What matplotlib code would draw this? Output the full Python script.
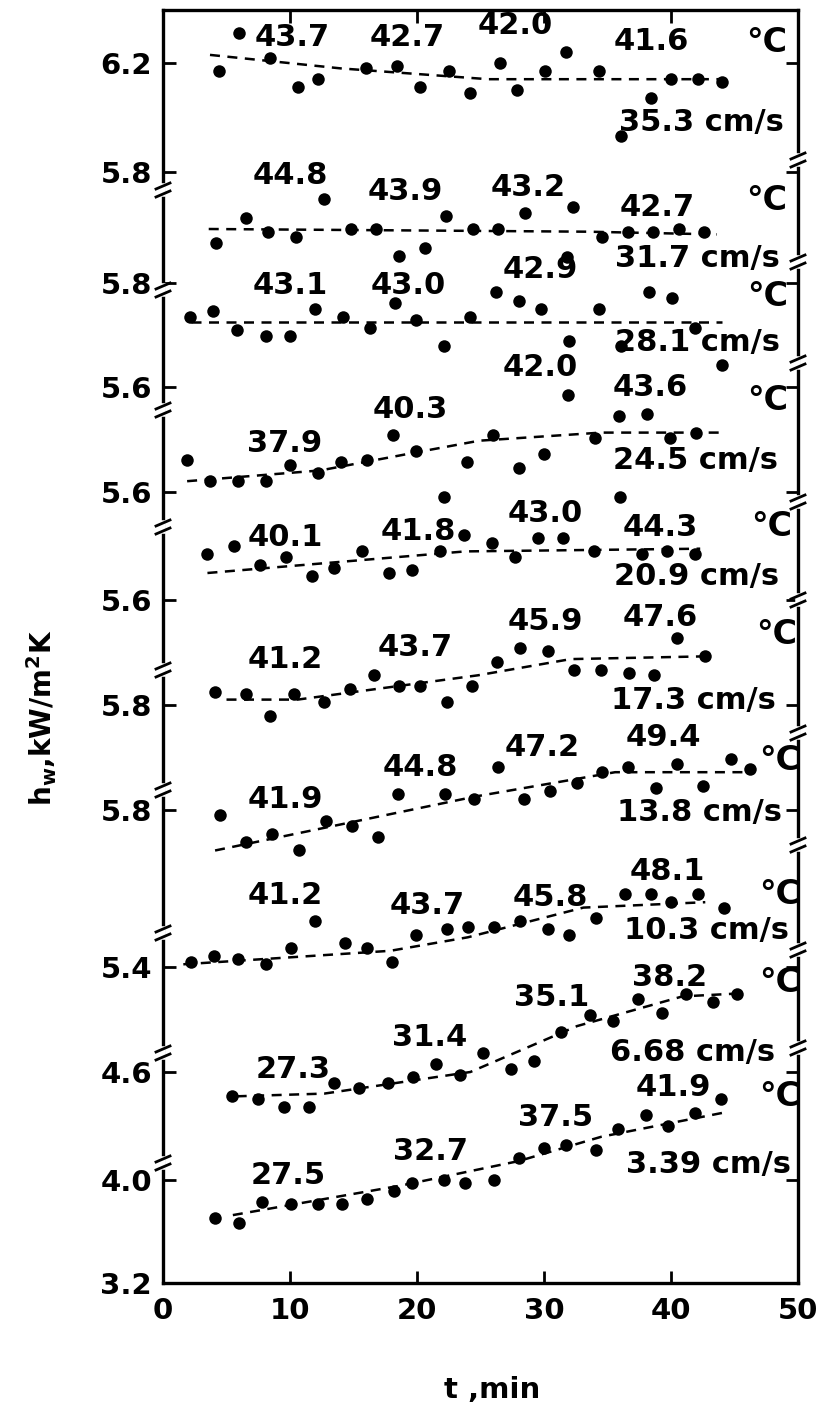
import matplotlib
matplotlib.use('Agg')
import matplotlib.pyplot as plt
import numpy as np

plt.rcParams.update({'font.family': 'DejaVu Sans', 'font.weight': 'bold',
                     'font.size': 21, 'mathtext.default': 'bf'})

# water velocity of each run, top to bottom
velocity = ['35.3', '31.7', '28.1', '24.5', '20.9', '17.3', '13.8', '10.3', '6.68', '3.39']

# wall temperatures written along each run (deg C)
temps = [['43.7', '42.7', '42.0', '41.6'],
         ['44.8', '43.9', '43.2', '42.7'],
         ['43.1', '43.0', '42.9'],
         ['37.9', '40.3', '42.0', '43.6'],
         ['40.1', '41.8', '43.0', '44.3'],
         ['41.2', '43.7', '45.9', '47.6'],
         ['41.9', '44.8', '47.2', '49.4'],
         ['41.2', '43.7', '45.8', '48.1'],
         ['27.3', '31.4', '35.1', '38.2'],
         ['27.5', '32.7', '37.5', '41.9']]

# measured h_w (kW/m2K) against time (min)
t1 = [4.4, 6.0, 8.4, 10.6, 12.2, 16.0, 18.4, 20.2, 22.5, 24.2, 26.5, 27.9, 30.1, 31.7, 34.3, 36.1, 38.4, 40.0, 42.1, 44.0]
h1 = [6.17, 6.31, 6.22, 6.11, 6.14, 6.18, 6.19, 6.11, 6.17, 6.09, 6.20, 6.10, 6.17, 6.24, 6.17, 5.93, 6.07, 6.14, 6.14, 6.13]
t2 = [4.2, 6.5, 8.3, 10.5, 12.7, 14.8, 16.8, 18.6, 20.6, 22.3, 24.4, 26.4, 28.5, 32.3, 34.6, 36.6, 38.6, 40.6, 42.6]
h2 = [5.95, 6.04, 5.99, 5.97, 6.11, 6.00, 6.00, 5.90, 5.93, 6.05, 6.00, 6.00, 6.06, 6.08, 5.97, 5.99, 5.99, 6.00, 5.99]
t3 = [2.1, 3.9, 5.8, 8.1, 10.0, 12.0, 14.2, 16.3, 18.3, 19.9, 22.1, 24.2, 26.2, 28.0, 29.8, 31.8, 32.0, 34.3, 36.1, 38.3, 40.1, 41.9, 44.0]
h3 = [5.86, 5.88, 5.81, 5.79, 5.79, 5.89, 5.86, 5.82, 5.91, 5.85, 5.75, 5.86, 5.95, 5.92, 5.89, 6.08, 5.77, 5.89, 5.75, 5.95, 5.93, 5.82, 5.68]
t4 = [1.9, 3.7, 5.9, 8.1, 10.0, 12.2, 14.0, 16.1, 18.1, 19.9, 22.1, 23.9, 26.0, 28.0, 30.0, 31.9, 34.0, 35.9, 36.0, 38.1, 39.9, 42.0]
h4 = [5.72, 5.64, 5.64, 5.64, 5.70, 5.67, 5.71, 5.72, 5.81, 5.75, 5.58, 5.71, 5.81, 5.69, 5.74, 5.96, 5.80, 5.88, 5.58, 5.89, 5.80, 5.82]
t5 = [3.5, 5.6, 7.6, 9.7, 11.7, 13.5, 15.7, 17.8, 19.6, 21.8, 23.7, 25.9, 27.7, 29.5, 31.5, 33.9, 37.7, 39.7, 41.9]
h5 = [5.77, 5.80, 5.73, 5.76, 5.69, 5.72, 5.78, 5.70, 5.71, 5.78, 5.84, 5.81, 5.76, 5.83, 5.83, 5.78, 5.77, 5.78, 5.77]
t6 = [4.1, 6.5, 8.4, 10.3, 12.7, 14.7, 16.6, 18.6, 20.2, 22.4, 24.3, 26.3, 28.1, 30.3, 32.4, 34.5, 36.7, 38.7, 40.5, 42.7]
h6 = [5.85, 5.84, 5.76, 5.84, 5.81, 5.86, 5.91, 5.87, 5.87, 5.81, 5.87, 5.96, 6.01, 6.00, 5.93, 5.93, 5.92, 5.91, 6.05, 5.98]
t7 = [4.5, 6.5, 8.6, 10.7, 12.8, 14.9, 16.9, 18.5, 22.2, 24.5, 26.4, 28.4, 30.5, 32.6, 34.6, 36.6, 38.8, 40.5, 42.5, 44.7, 46.2]
h7 = [5.78, 5.68, 5.71, 5.65, 5.76, 5.74, 5.70, 5.86, 5.86, 5.84, 5.96, 5.84, 5.87, 5.90, 5.94, 5.96, 5.88, 5.97, 5.89, 5.99, 5.95]
t8 = [2.2, 4.0, 5.9, 8.1, 10.1, 12.0, 14.3, 16.1, 18.0, 19.9, 22.4, 24.0, 26.1, 28.1, 30.3, 32.0, 34.1, 36.4, 38.4, 40.0, 42.1, 44.2]
h8 = [5.42, 5.44, 5.43, 5.41, 5.47, 5.57, 5.49, 5.47, 5.42, 5.52, 5.54, 5.55, 5.55, 5.57, 5.54, 5.52, 5.58, 5.67, 5.67, 5.64, 5.67, 5.62]
t9 = [5.4, 7.5, 9.5, 11.5, 13.5, 15.4, 17.7, 19.7, 21.5, 23.4, 25.2, 27.4, 29.2, 31.3, 33.6, 35.4, 37.4, 39.3, 41.2, 43.3, 45.2]
h9 = [4.51, 4.50, 4.47, 4.47, 4.56, 4.54, 4.56, 4.58, 4.63, 4.59, 4.67, 4.61, 4.64, 4.75, 4.81, 4.79, 4.87, 4.82, 4.89, 4.86, 4.89]
t10 = [4.1, 6.0, 7.8, 10.1, 12.2, 14.1, 16.1, 18.2, 19.6, 22.1, 23.8, 26.1, 28.0, 30.0, 31.7, 34.1, 35.8, 38.0, 39.8, 41.9, 43.9]
h10 = [3.86, 3.84, 3.92, 3.91, 3.91, 3.91, 3.93, 3.96, 3.99, 4.00, 3.99, 4.00, 4.08, 4.12, 4.13, 4.11, 4.19, 4.24, 4.20, 4.25, 4.30]

# smoothed trend of each run (dashed)
ft1 = [3.7, 14.0, 25.6, 44.5];             fh1 = [6.23, 6.18, 6.14, 6.14]
ft2 = [3.6, 33.5, 43.6];                   fh2 = [6.00, 5.99, 5.98]
ft3 = [2.2, 44.0];                         fh3 = [5.84, 5.84]
ft4 = [1.9, 12.4, 20.3, 24.9, 34.5, 44.0]; fh4 = [5.64, 5.68, 5.75, 5.79, 5.82, 5.82]
ft5 = [3.5, 23.8, 42.3];                   fh5 = [5.70, 5.78, 5.79]
ft6 = [5.0, 10.6, 24.8, 32.1, 42.5];       fh6 = [5.82, 5.82, 5.91, 5.97, 5.98]
ft7 = [4.1, 24.6, 35.6, 45.8];             fh7 = [5.65, 5.85, 5.94, 5.94]
ft8 = [1.6, 17.9, 24.0, 33.1, 42.7];       fh8 = [5.41, 5.46, 5.51, 5.62, 5.64]
ft9 = [5.8, 12.7, 24.2, 32.6, 40.9, 45.0]; fh9 = [4.51, 4.52, 4.60, 4.77, 4.88, 4.89]
ft10 = [5.5, 18.8, 28.0, 34.5, 44.2];      fh10 = [3.87, 3.98, 4.07, 4.16, 4.25]

# broken y axis: tick values and their labels
tick_labels = ['6.2', '5.8', '5.8', '5.6', '5.6', '5.6', '5.8', '5.8', '5.4', '4.6', '4.0', '3.2']
ref_val = [6.2, 5.8, 5.6, 5.6, 5.6, 5.8, 5.8, 5.4, 4.6, 4.0]

runs = [(t1, h1, ft1, fh1), (t2, h2, ft2, fh2), (t3, h3, ft3, fh3), (t4, h4, ft4, fh4),
        (t5, h5, ft5, fh5), (t6, h6, ft6, fh6), (t7, h7, ft7, fh7), (t8, h8, ft8, fh8),
        (t9, h9, ft9, fh9), (t10, h10, ft10, fh10)]

# ---- layout (figure pixels, measured from top-left) ----
W, H = 828, 1410
X0, X1, Y0, Y1 = 163, 798, 10, 1283
PXMIN = (X1 - X0) / 50.0
K = 270.0   # stacked units per kW/m2K
tick_y = [63, 172, 283, 387, 492, 600, 705, 810, 967, 1072, 1180, 1283]
ref_y = [63, 283, 387, 492, 600, 705, 810, 967, 1072, 1180]
left_breaks = [190, 290, 410, 527, 670, 790, 933, 1053, 1163]
right_breaks = [160, 262, 363, 502, 600, 733, 845, 950, 1048]

temp_xy = [[(292, 37), (407, 37), (515, 25), (651, 42)],
           [(290, 175), (405, 192), (528, 187), (657, 207)],
           [(290, 286), (408, 285), (540, 270)],
           [(285, 443), (410, 410), (540, 368), (650, 387)],
           [(285, 537), (418, 532), (545, 513), (660, 527)],
           [(285, 660), (415, 648), (545, 622), (660, 618)],
           [(285, 800), (420, 768), (542, 748), (663, 738)],
           [(285, 895), (427, 905), (550, 898), (667, 872)],
           [(293, 1070), (430, 1038), (552, 998), (670, 977)],
           [(288, 1175), (431, 1152), (556, 1117), (673, 1088)]]
degc_xy = [(767, 42), (767, 200), (768, 296), (768, 400), (772, 527),
           (777, 635), (780, 760), (780, 895), (780, 983), (780, 1097)]
vel_xy = [(701, 123), (697, 258), (698, 342), (696, 460), (697, 577),
          (693, 700), (700, 812), (706, 930), (693, 1053), (709, 1165)]


def at(x, y):
    # figure pixel -> data coordinates
    return (x - X0) / PXMIN, Y1 - y


def stacked(h, i):
    return (Y1 - ref_y[i]) + (np.asarray(h) - ref_val[i]) * K


fig = plt.figure(figsize=(W / 100, H / 100), dpi=100)
ax = fig.add_axes([X0 / W, 1 - Y1 / H, (X1 - X0) / W, (Y1 - Y0) / H])
ax.set_xlim(0, 50)
ax.set_ylim(0, Y1 - Y0)

for i, (t, h, ft, fh) in enumerate(runs):
    ax.plot(ft, stacked(fh, i), color='black', lw=1.8, ls=(0, (4, 3)), zorder=2)
    ax.plot(t, stacked(h, i), 'o', color='black', ms=9, mew=0, zorder=3)
    for txt, (x, y) in zip(temps[i], temp_xy[i]):
        ax.text(*at(x, y), txt, ha='center', va='center', fontsize=22)
    ax.text(*at(*degc_xy[i]), '°C', ha='center', va='center', fontsize=24)
    ax.text(*at(*vel_xy[i]), velocity[i] + ' cm/s', ha='center', va='center', fontsize=22)

ax.set_xticks(range(0, 51, 10))
ax.set_yticks([Y1 - y for y in tick_y])
ax.set_yticklabels(tick_labels)
ax.tick_params(axis='both', direction='in', width=2, labelsize=21, pad=8)
ax.tick_params(axis='x', length=9, top=True, pad=10)
ax.tick_params(axis='y', length=9, right=True)
for s in ax.spines.values():
    s.set_linewidth(2.4)

# axis breaks: interrupt the spine and mark it with a pair of slashes
def axis_break(x, y):
    fx = lambda px: px / W
    fy = lambda py: 1 - py / H
    fig.add_artist(plt.Line2D([fx(x), fx(x)], [fy(y - 4), fy(y + 4)], color='white', lw=4, zorder=5))
    for dy in (-4, 4):
        fig.add_artist(plt.Line2D([fx(x - 7), fx(x + 7)], [fy(y + dy + 3), fy(y + dy - 3)],
                                  color='black', lw=2, zorder=6))

for y in left_breaks:
    axis_break(X0, y)
for y in right_breaks:
    axis_break(X1, y)

fig.text(492 / W, 1 - 1390 / H, 't ,min', ha='center', va='center', fontsize=21)
fig.text(42 / W, 1 - 718 / H, 'h$_{w}$,kW/m$^{2}$K', ha='center', va='center',
         rotation=90, fontsize=20)

fig.savefig('out.png', dpi=100)
